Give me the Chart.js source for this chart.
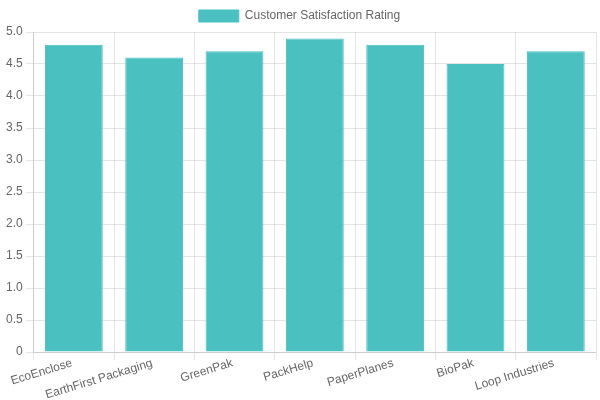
<!DOCTYPE html>
<html>
<head>
<meta charset="utf-8">
<script src="https://cdn.jsdelivr.net/npm/chart.js@4/dist/chart.umd.min.js"></script>
<style>
html,body{margin:0;padding:0;background:#fff;}
#wrap{width:600px;height:400px;}
</style>
</head>
<body>
<div id="wrap"><canvas id="c" width="600" height="400"></canvas></div>
<script>
const categories = ["EcoEnclose", "EarthFirst Packaging", "GreenPak", "PackHelp", "PaperPlanes", "BioPak", "Loop Industries"];
const ratings = [4.8, 4.6, 4.7, 4.9, 4.8, 4.5, 4.7];
const seriesName = "Customer Satisfaction Rating";

Chart.defaults.font.family = "'Liberation Sans', Arial, sans-serif";
Chart.defaults.color = "#666";

new Chart(document.getElementById('c'), {
  type: 'bar',
  data: {
    labels: categories,
    datasets: [{
      label: seriesName,
      data: ratings,
      backgroundColor: 'rgba(75,192,192,1)',
      borderColor: 'rgba(75,192,192,1)',
      borderWidth: 1
    }]
  },
  options: {
    responsive: false,
    animation: false,
    layout: { padding: { left: 3, right: 4 } },
    scales: {
      y: { beginAtZero: true, max: 5 },
      x: {
        ticks: { minRotation: 17, maxRotation: 17, padding: -4, labelOffset: -2 },
        afterFit: (scale) => { scale.height = 48; }
      }
    }
  }
});
</script>
</body>
</html>
